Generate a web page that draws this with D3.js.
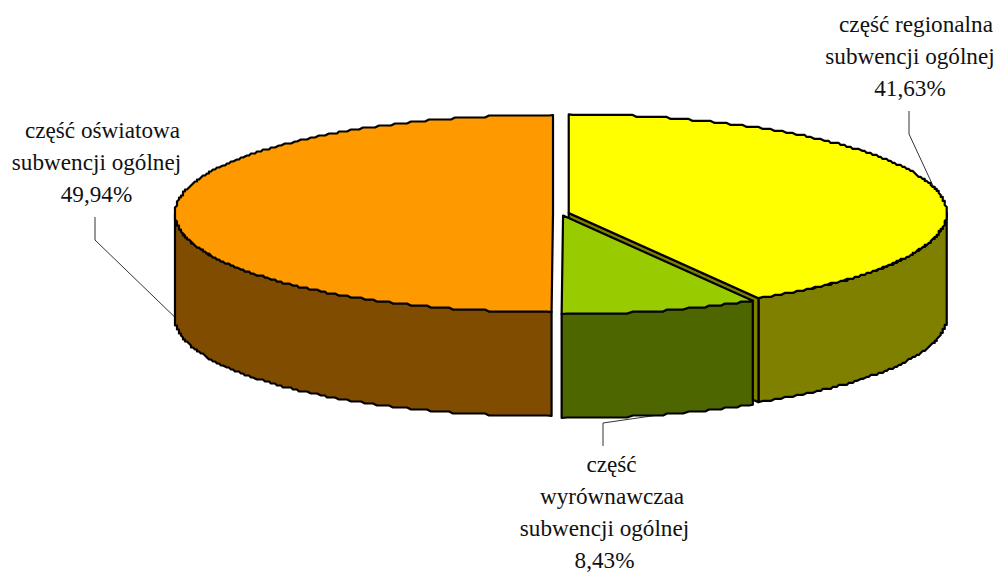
<!DOCTYPE html>
<html>
<head>
<meta charset="utf-8">
<style>
  html, body { margin: 0; padding: 0; background: #fff; }
  svg { display: block; }
  text { font-family: "Liberation Serif", serif; font-size: 23.2px; fill: #111; text-anchor: middle; }
</style>
<script src="https://cdnjs.cloudflare.com/ajax/libs/d3/7.8.5/d3.min.js"></script>
</head>
<body>
<div id="chart"></div>
<script>
const categories = ["regionalna", "wyrownawcza", "oswiatowa"];
const shares = [41.63, 8.43, 49.94];
const labelLines = [
  ["część regionalna", "subwencji ogólnej", "41,63%"],
  ["część", "wyrównawczaa", "subwencji ogólnej", "8,43%"],
  ["część oświatowa", "subwencji ogólnej", "49,94%"]
];
const topColors = ["#ffff00", "#99cc00", "#ff9900"];
const sideColors = ["#808000", "#4d6600", "#804d00"];

const width = 997, height = 572;
const cx = 561, cy = 213.5;
const rx = 378, ry = 98.5, depth = 104;
const explode = 8;
const gridStep = 2; // the original rim is stepped, not a clean ellipse

// where each label sits: centre x, first baseline, per-line nudge, leader start and elbow
const labelLayout = [
  { x: 910, y: 32, shift: [6, 0, 0], lead: [[909, 111], [909, 134]], front: false },
  { x: 604.5, y: 472, shift: [7, 7.5, 0, 0], lead: [[603, 446], [603, 423]], front: true },
  { x: 96.5, y: 138, shift: [6, 0, 0], lead: [[95, 217], [95, 240]], front: true }
];
const lineHeight = 32;

const svg = d3.select("#chart").append("svg")
  .attr("width", width)
  .attr("height", height);

const topColor = d3.scaleOrdinal().domain(categories).range(topColors);
const sideColor = d3.scaleOrdinal().domain(categories).range(sideColors);

const slices = d3.pie().sort(null)(shares).map((d, i) => {
  const mid = (d.startAngle + d.endAngle) / 2;
  return {
    name: categories[i],
    start: d.startAngle,
    end: d.endAngle,
    mid: mid,
    ox: cx + Math.sin(mid) * explode,
    oy: cy - Math.cos(mid) * explode * ry / rx
  };
});

function rim(s, a, drop) {
  return [s.ox + Math.sin(a) * rx, s.oy - Math.cos(a) * ry + (drop || 0)];
}
function snap(s, p) {
  return [
    s.ox + Math.round((p[0] - s.ox) / gridStep) * gridStep,
    s.oy + Math.round((p[1] - s.oy) / gridStep) * gridStep
  ];
}
function arcPoints(s, a0, a1, drop) {
  const n = Math.max(2, Math.ceil(Math.abs(a1 - a0) / 0.012));
  return d3.range(n + 1).map(i => {
    const p = rim(s, a0 + (a1 - a0) * i / n, drop);
    return (i === 0 || i === n) ? p : snap(s, p);
  });
}

const line = d3.line();
const closed = pts => line(pts) + "Z";

function drawFace(pts, color) {
  svg.append("path")
    .attr("d", closed(pts))
    .attr("fill", color)
    .attr("stroke", "#000")
    .attr("stroke-width", 2.2)
    .attr("stroke-linejoin", "round");
}

function outerSide(s, a0, a1) {
  return arcPoints(s, a0, a1, 0).concat(arcPoints(s, a1, a0, depth));
}

function drawLeader(s, l) {
  const end = rim(s, s.mid, l.front ? depth : 0);
  svg.append("path")
    .attr("d", line(l.lead.concat([end])))
    .attr("fill", "none")
    .attr("stroke", "#333")
    .attr("stroke-width", 1);
}

const [yellow, green, orange] = slices;

// leaders go first so the slices cover their far ends
slices.forEach((s, i) => drawLeader(s, labelLayout[i]));

// back to front: yellow, then orange, then green
drawFace(outerSide(yellow, Math.PI / 2, yellow.end), sideColor(yellow.name));
drawFace([[yellow.ox, yellow.oy], rim(yellow, yellow.end), rim(yellow, yellow.end, depth), [yellow.ox, yellow.oy + depth]], sideColor(yellow.name));
drawFace([[yellow.ox, yellow.oy]].concat(arcPoints(yellow, yellow.start, yellow.end, 0)), topColor(yellow.name));

drawFace(outerSide(orange, orange.start, 3 * Math.PI / 2), sideColor(orange.name));
drawFace([[orange.ox, orange.oy]].concat(arcPoints(orange, orange.start, orange.end, 0)), topColor(orange.name));

drawFace(outerSide(green, green.start, green.end), sideColor(green.name));
drawFace([[green.ox, green.oy]].concat(arcPoints(green, green.start, green.end, 0)), topColor(green.name));

labelLines.forEach((lines, i) => {
  const l = labelLayout[i];
  const t = svg.append("text");
  lines.forEach((txt, j) => {
    t.append("tspan")
      .attr("x", l.x + l.shift[j])
      .attr("y", l.y + j * lineHeight)
      .text(txt);
  });
});
</script>
</body>
</html>
